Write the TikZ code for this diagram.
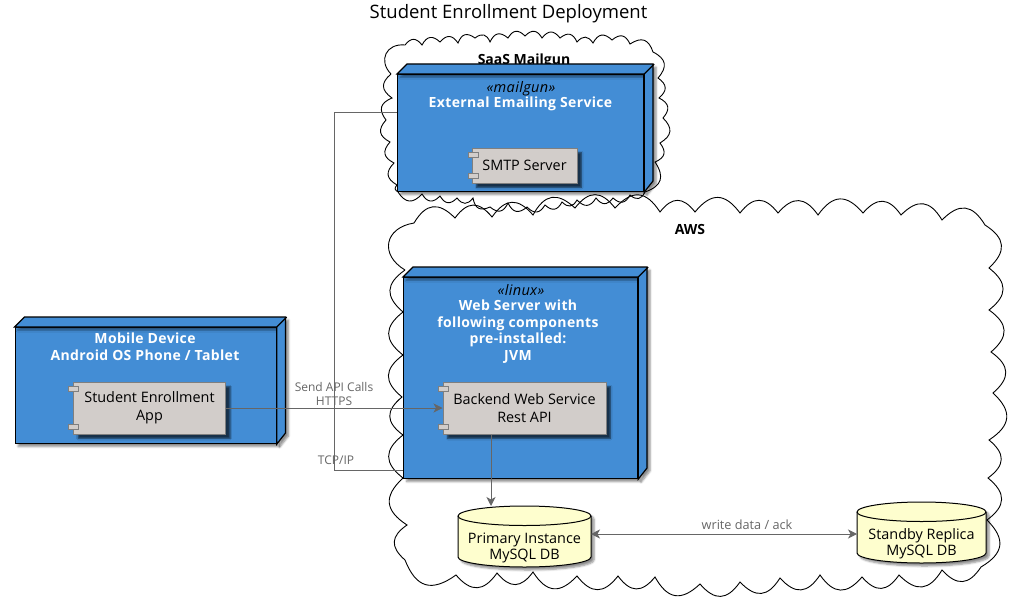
\documentclass[tikz,border=0pt]{standalone}
\usepackage{fontspec}
\setmainfont{Open Sans}
\newfontfamily\spacedfont[LetterSpace=2.5]{Open Sans}
\usetikzlibrary{shadows.blur,arrows.meta,calc}
\definecolor{nodeblue}{HTML}{438DD5}
\definecolor{compgrey}{HTML}{D2CDCA}
\definecolor{compline}{HTML}{7F7F7F}
\definecolor{dbfill}{HTML}{FEFECE}
\definecolor{linkgrey}{HTML}{666666}
\tikzset{
  x=1pt,y=-1pt,
  cloudline/.style={draw=black,line width=0.9pt,line join=miter,every to/.style={bend left=52,looseness=1.45}},
  softshadow/.style={blur shadow={shadow xshift=3pt,shadow yshift=-3pt,shadow blur steps=5,shadow blur radius=2pt,shadow opacity=45}},
  compshadow/.style={blur shadow={shadow xshift=4.5pt,shadow yshift=-4.5pt,shadow blur steps=4,shadow blur radius=1.5pt,shadow opacity=65}},
  front/.style={draw=black,fill=nodeblue,line width=1.2pt,inner sep=0pt,minimum width=#1},
  face/.style={draw=black,fill=nodeblue,line width=1.2pt,line join=miter},
  comp/.style={draw=compline,fill=compgrey,line width=1pt,inner sep=0pt,align=center,font=\fontsize{14.4}{17.5}\selectfont,text=black},
  tab/.style={draw=compline,fill=compgrey,line width=1pt,inner sep=0pt,minimum width=10pt,minimum height=5pt},
  nodetitle/.style={font=\fontsize{14}{16.7}\spacedfont\bfseries,text=white,align=center,inner sep=0pt},
  stereo/.style={font=\fontsize{14.5}{16}\spacedfont\itshape,text=black,inner sep=0pt},
  cloudtitle/.style={font=\fontsize{14}{16}\selectfont\bfseries,text=black,inner sep=0pt},
  linklabel/.style={font=\fontsize{12}{14}\selectfont,text=linkgrey,align=center,inner sep=0pt},
  link/.style={draw=linkgrey,line width=0.9pt},
  head/.style={-{Stealth[inset=2.5pt,length=9pt,width=9pt]}},
  dbtext/.style={font=\fontsize{14.4}{16.5}\selectfont,text=black,align=center,inner sep=0pt},
  dbshape/.style={draw=black,fill=dbfill,line width=1pt},
}
\begin{document}
\begin{tikzpicture}
\useasboundingbox (0,0) rectangle (1027,615);
\node[font=\fontsize{18.5}{22}\selectfont,inner sep=0pt] (title) at (508.5,13.5) {Student Enrollment Deployment};
% Mailgun cloud
\draw[cloudline] (391,74) to[bend left=70,looseness=1.5] (405,45) to (422,45) to (440,42) to (458,43) to (475,38) to (490,42) to (508,38) to (525,36) to (542,38) to (560,38) to (577,42) to (593,43) to (612,40) to (630,44) to (653,52) to (658,78) to (659,98) to (663,118) to (660,143) to (655,162) to (645,192) to (630,195) to (613,198) to (596,198) to (577,200) to (562,202) to (545,205) to (527,207) to (508,203) to (490,207) to (473,198) to (457,198) to (440,196) to (422,194) to (398,192) to (397,185) to (394,163) to (390,142) to (386,120) to (392,98) to (391,74);
% AWS cloud
\draw[cloudline] (405,270) to[bend left=70,looseness=1.6] (414,223) to (455,218) to (492,217) to (533,215) to (575,208) to (615,208) to (660,212) to (695,212) to (740,213) to (778,213) to (818,215) to (863,213) to (901,215) to (942,220) to (985,225) to (989,268) to (989,310) to (991,352) to (993,393) to (989,440) to (988,478) to (987,520) to (981,567) to (942,570) to (899,575) to (862,577) to (820,575) to (780,578) to (740,582) to (700,584) to (655,577) to (618,576) to (577,576) to (533,572) to (497,573) to (456,575) to (405,560) to (407,525) to (403,478) to (403,435) to (402,397) to (403,355) to (403,312) to (405,270);
\node[cloudtitle] (saas) at (524,60.5) {SaaS Mailgun};
\node[cloudtitle] (aws) at (690,229.5) {AWS};
% Mailgun node
\node[front=246pt,minimum height=117pt,anchor=north west,softshadow] (mail) at (397,74) {};
\draw[face,softshadow] (mail.north west) -- ++(10,-10) -- ++(246,0) -- ++(0,117) -- (mail.south east) -- (mail.north east) -- cycle;
\draw[face] (mail.north east) -- ++(10,-10);
\node[stereo] (mailS) at (521,89) {«mailgun»};
\node[nodetitle] (mailT) at (520.5,104) {External Emailing Service};
\node[comp,minimum width=105pt,minimum height=35pt,compshadow] (smtp) at (524.5,165.5) {SMTP Server};
\node[tab] (smtpA) at (473,154.5) {};
\node[tab] (smtpB) at (473,175.5) {};
% Web node
\node[front=234pt,minimum height=201pt,anchor=north west,softshadow] (web) at (403,277) {};
\draw[face,softshadow] (web.north west) -- ++(10,-10) -- ++(234,0) -- ++(0,201) -- (web.south east) -- (web.north east) -- cycle;
\draw[face] (web.north east) -- ++(10,-10);
\node[stereo] (webS) at (521,290) {«linux»};
\node[nodetitle] (webT) at (518,331.5) {Web Server with\\following components\\pre-installed:\\JVM};
\node[comp,minimum width=163pt,minimum height=52pt,compshadow] (back) at (524.5,408) {Backend Web Service\\Rest API};
\node[tab] (backA) at (443.5,388.5) {};
\node[tab] (backB) at (443.5,426.5) {};
% Mobile node
\node[front=261pt,minimum height=116pt,anchor=north west,softshadow] (mob) at (14.5,327) {};
\draw[face,softshadow] (mob.north west) -- ++(10,-10) -- ++(261,0) -- ++(0,116) -- (mob.south east) -- (mob.north east) -- cycle;
\draw[face] (mob.north east) -- ++(10,-10);
\node[nodetitle] (mobT) at (145,346.5) {Mobile Device\\Android OS Phone / Tablet};
\node[comp,minimum width=152pt,minimum height=52pt,compshadow] (app) at (149.5,408) {Student Enrollment\\App};
\node[tab] (appA) at (73.5,388.5) {};
\node[tab] (appB) at (73.5,426.5) {};
% Databases
\draw[dbshape,softshadow] (458,516) arc[start angle=180,end angle=0,x radius=66.5,y radius=-10] -- (591,557) arc[start angle=0,end angle=-180,x radius=66.5,y radius=-10] -- cycle;
\draw[dbshape] (458,516) arc[start angle=180,end angle=360,x radius=66.5,y radius=-9.5];
\draw[dbshape,softshadow] (857,512) arc[start angle=180,end angle=0,x radius=64.5,y radius=-10] -- (986,553) arc[start angle=0,end angle=-180,x radius=64.5,y radius=-10] -- cycle;
\draw[dbshape] (857,512) arc[start angle=180,end angle=360,x radius=64.5,y radius=-9.5];
\node[dbtext] (pri) at (524.5,548) {Primary Instance\\MySQL DB};
\node[dbtext] (stb) at (921.5,544) {Standby Replica\\MySQL DB};
\coordinate (priN) at (491,506);
\coordinate (priE) at (591,534);
\coordinate (stbW) at (857,534);
% Connectors
\coordinate (busA) at (334.5,470);
\coordinate (busB) at (334.5,112);
\draw[link] (web.south west |- busA) -- (busA) -- (busB) -- (mail.west |- busB);
\draw[link,head] (app.east) -- (back.west);
\draw[link,head] (back.south -| priN) -- (priN);
\draw[link,{Stealth[inset=2.5pt,length=9pt,width=9pt]}-{Stealth[inset=2.5pt,length=9pt,width=9pt]}] (priE) -- (stbW);
\node[linklabel] (apiL) at (334,394) {Send API Calls\\HTTPS};
\node[linklabel] (tcpL) at (336,460) {TCP/IP};
\node[linklabel,font=\fontsize{12.7}{14}\selectfont] (ackL) at (747,525) {write data / ack};
\end{tikzpicture}
\end{document}
